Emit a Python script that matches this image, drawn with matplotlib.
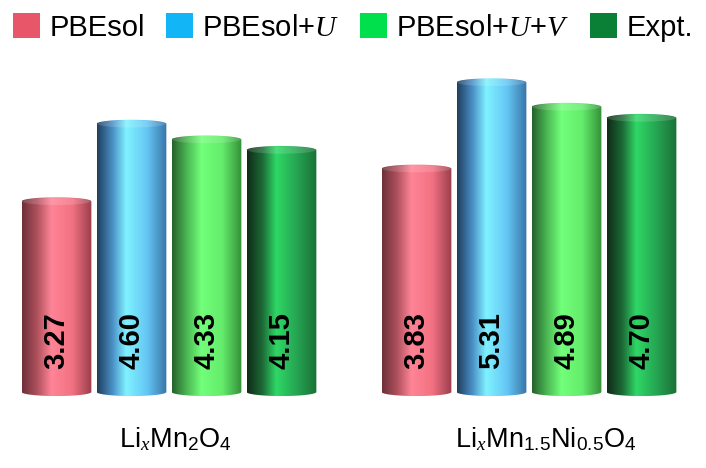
import matplotlib
matplotlib.use("Agg")
import matplotlib.pyplot as plt
from matplotlib.colors import LinearSegmentedColormap
from matplotlib.patches import Patch, Ellipse
from matplotlib.path import Path
import numpy as np

plt.rcParams['font.family'] = ['Liberation Sans', 'DejaVu Sans']
plt.rcParams['mathtext.fontset'] = 'custom'
plt.rcParams['mathtext.rm'] = 'Liberation Sans'
plt.rcParams['mathtext.it'] = 'Liberation Serif:italic'
plt.rcParams['mathtext.bf'] = 'Liberation Sans:bold'

# data
materials = [r"Li$_{x}$Mn$_{2}$O$_{4}$", r"Li$_{x}$Mn$_{1.5}$Ni$_{0.5}$O$_{4}$"]
methods = ["PBEsol", "PBEsol+$U$", "PBEsol+$U$+$V$", "Expt."]
pbesol = [3.27, 3.83]
pbesol_u = [4.60, 5.31]
pbesol_uv = [4.33, 4.89]
expt = [4.15, 4.70]
series = [pbesol, pbesol_u, pbesol_uv, expt]

legend_colors = ["#E8566A", "#12B6F6", "#00E04C", "#0A8036"]
# left edge, shadow, highlight, plateau, right edge
shades = [
    ["#6E3038", "#B0525E", "#FF8496", "#F27282", "#9A3E4C"],
    ["#203F5E", "#4A8FC6", "#80F2FF", "#64C6F4", "#3874A8"],
    ["#25632B", "#4DBA55", "#72FF7A", "#64EC6C", "#349038"],
    ["#0F2C17", "#1D6A37", "#2FD866", "#25A352", "#1B7036"],
]

group_pos = np.array([0.0, 4.8])
width = 0.93
ell = 0.07  # half height of the cylinder caps

fig = plt.figure(figsize=(7.06, 4.68), dpi=100)
ax = fig.add_axes([0, 0, 1, 1])

def cap_path(x0, x1, h, e):
    xc = (x0 + x1) / 2
    rx = (x1 - x0) / 2
    t = np.linspace(np.pi, 2 * np.pi, 40)
    bottom = np.column_stack([xc + rx * np.cos(t), e * np.sin(t)])
    t2 = np.linspace(0, np.pi, 40)
    top = np.column_stack([xc + rx * np.cos(t2), h + e * np.sin(t2)])
    verts = np.vstack([bottom, top, bottom[:1]])
    codes = [Path.MOVETO] + [Path.LINETO] * (len(verts) - 2) + [Path.CLOSEPOLY]
    return Path(verts, codes)

grad = np.linspace(0, 1, 200).reshape(1, -1)
for i, vals in enumerate(series):
    x = group_pos + (i - 1.5) * 1.0
    bars = ax.bar(x, vals, width, color=legend_colors[i], alpha=0)
    cmap = LinearSegmentedColormap.from_list(
        "c%d" % i, list(zip([0, 0.22, 0.42, 0.72, 1.0], shades[i])))
    for b in bars:
        x0, w, h = b.get_x(), b.get_width(), b.get_height()
        im = ax.imshow(grad, cmap=cmap, aspect='auto',
                       extent=[x0, x0 + w, -ell, h + ell], zorder=2)
        im.set_clip_path(cap_path(x0, x0 + w, h, ell), ax.transData)
        ax.add_patch(Ellipse((x0 + w / 2, h), w * 0.98, 2 * ell * 0.9,
                             facecolor='white', alpha=0.15, lw=0, zorder=3))
        ax.text(x0 + w / 2, 0.88, "%.2f" % h, rotation=90, ha='center',
                va='center', fontsize=21, fontweight='bold', zorder=4)

label_x = [0.09, 5.03]
for lx, name in zip(label_x, materials):
    ax.text(lx, -0.943, name, ha='center', va='baseline', fontsize=19.5)

handles = [Patch(facecolor=c, edgecolor='none') for c in legend_colors]
ax.legend(handles, methods, loc='upper center', bbox_to_anchor=(0.5, 1.0),
          ncol=4, frameon=False, fontsize=21, handlelength=0.93,
          handleheight=0.96, handletextpad=0.32, columnspacing=0.7,
          borderaxespad=0.2, borderpad=0.25)

ax.set_xlim(-2.253, 7.16)
ax.set_ylim(-1.304, 6.724)
ax.axis('off')

fig.savefig("out.png", dpi=100)
